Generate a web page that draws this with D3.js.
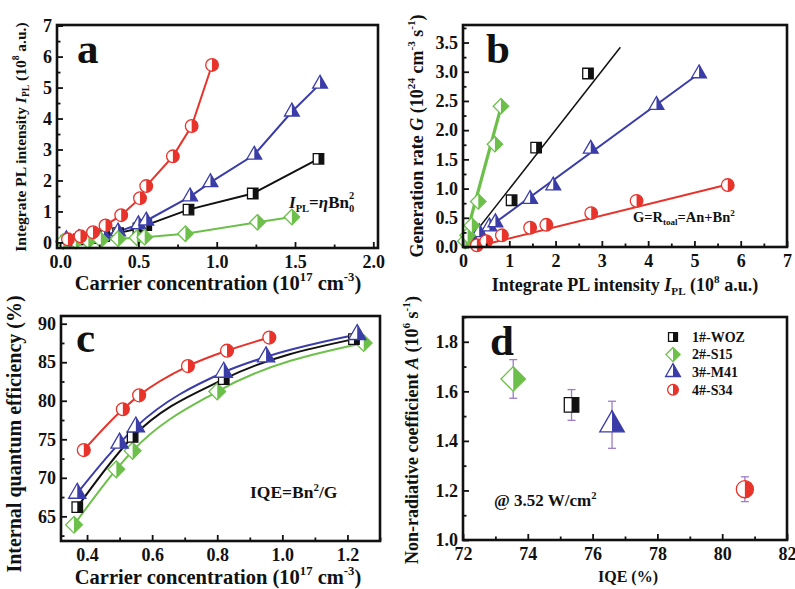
<!DOCTYPE html>
<html><head><meta charset="utf-8">
<script src="https://cdn.jsdelivr.net/npm/d3@7"></script>
<style>
body{margin:0;background:#fff}
text{font-family:"Liberation Serif","Times New Roman",serif;font-weight:bold;fill:#111}
</style>
</head><body>
<svg id="chart" width="795" height="589"></svg>
<script>
// ---------------- DATA ----------------
const seriesNames = ["1#-WOZ", "2#-S15", "3#-M41", "4#-S34"];
const seriesColors = ["#111111", "#6cc04a", "#3a3ca8", "#e8332b"];

// Panel a: carrier concentration (1e17 cm^-3) vs integrated PL (1e8 a.u.)
const aBlackX = [0.04, 0.12, 0.20, 0.28, 0.37, 0.50, 0.55, 0.82, 1.23, 1.65];
const aBlackY = [0.06, 0.10, 0.14, 0.20, 0.30, 0.45, 0.56, 1.06, 1.58, 2.70];
const aGreenX = [0.02, 0.10, 0.18, 0.26, 0.37, 0.49, 0.54, 0.80, 1.26, 1.48];
const aGreenY = [0.03, 0.04, 0.05, 0.08, 0.12, 0.15, 0.17, 0.28, 0.65, 0.82];
const aBlueX  = [0.04, 0.12, 0.20, 0.28, 0.37, 0.50, 0.55, 0.83, 0.96, 1.24, 1.48, 1.66];
const aBlueY  = [0.10, 0.14, 0.18, 0.23, 0.35, 0.58, 0.70, 1.48, 1.94, 2.83, 4.22, 5.12];
const aRedX   = [0.05, 0.13, 0.21, 0.29, 0.39, 0.51, 0.55, 0.72, 0.84, 0.97];
const aRedY   = [0.10, 0.20, 0.33, 0.55, 0.88, 1.43, 1.82, 2.78, 3.76, 5.73];

// Panel b: integrated PL (1e8 a.u.) vs generation rate (1e24)
const bBlackX = [1.05, 1.58, 2.70];
const bBlackY = [0.80, 1.70, 2.97];
const bGreenX = [0.05, 0.10, 0.19, 0.33, 0.69, 0.82];
const bGreenY = [0.10, 0.20, 0.37, 0.78, 1.76, 2.41];
const bBlueX  = [0.20, 0.35, 0.57, 0.70, 1.45, 1.95, 2.76, 4.18, 5.10];
const bBlueY  = [0.12, 0.25, 0.35, 0.42, 0.82, 1.05, 1.68, 2.43, 2.97];
const bRedX   = [0.30, 0.50, 0.84, 1.45, 1.80, 2.77, 3.75, 5.72];
const bRedY   = [0.03, 0.10, 0.20, 0.33, 0.38, 0.58, 0.79, 1.06];
// linear fits in panel b: [x0, y0, x1, y1]
const bFitBlack = [0.02, 0.0, 3.40, 3.42];
const bFitGreen = [0.0, 0.0, 0.84, 2.45];
const bFitBlue  = [0.03, 0.03, 5.10, 2.97];
const bFitRed   = [0.25, 0.0, 5.72, 1.07];

// Panel c: carrier concentration vs IQE (%)
const cBlackX = [0.37, 0.54, 0.82, 1.22];
const cBlackY = [66.2, 75.3, 82.8, 88.0];
const cGreenX = [0.36, 0.49, 0.54, 0.80, 1.25];
const cGreenY = [63.9, 71.1, 73.5, 81.2, 87.5];
const cBlueX  = [0.37, 0.50, 0.55, 0.82, 0.95, 1.23];
const cBlueY  = [68.0, 74.5, 76.6, 83.7, 85.7, 88.6];
const cRedX   = [0.39, 0.51, 0.56, 0.71, 0.83, 0.96];
const cRedY   = [73.6, 78.9, 80.7, 84.5, 86.5, 88.2];

// Panel d: IQE (%) vs non-radiative coefficient A (1e6 s^-1)
const dIQE = [75.35, 73.55, 76.6, 80.7];
const dA   = [1.545, 1.65, 1.465, 1.205];
const dErr = [0.062, 0.078, 0.095, 0.05];

// ---------------- DRAWING ----------------
const svg = d3.select("#chart");
const defs = svg.append("defs");
defs.append("clipPath").attr("id", "rhalf").attr("clipPathUnits", "objectBoundingBox")
  .append("rect").attr("x", 0.5).attr("y", -0.1).attr("width", 0.6).attr("height", 1.2);

const squareDiamond = {
  draw(ctx, size) {
    const r = Math.sqrt(size / 2);
    ctx.moveTo(0, -r); ctx.lineTo(r, 0); ctx.lineTo(0, r); ctx.lineTo(-r, 0); ctx.closePath();
  }
};
const symTypes = [d3.symbolSquare, squareDiamond, d3.symbolTriangle, d3.symbolCircle];

function marker(g, idx, x, y, size) {
  const p = d3.symbol().type(symTypes[idx]).size(size)();
  const col = seriesColors[idx];
  const m = g.append("g").attr("transform", `translate(${x},${y})`);
  m.append("path").attr("d", p).attr("fill", "#fff").attr("stroke", col).attr("stroke-width", 1.3);
  m.append("path").attr("d", p).attr("fill", col).attr("clip-path", "url(#rhalf)");
}

// rich text: segments [text, mode] mode: 'n','i','sup','sub'
function rich(g, x, y, segs, size, opts = {}) {
  const t = g.append("text").attr("x", x).attr("y", y).attr("font-size", size)
    .attr("text-anchor", opts.anchor || "start");
  if (opts.rotate) t.attr("transform", `rotate(-90,${x},${y})`);
  let shift = 0;
  segs.forEach(([s, mode]) => {
    const ts = t.append("tspan").text(s);
    let target = 0;
    if (mode === "sup") { target = -size * 0.42; ts.attr("font-size", size * 0.62); }
    else if (mode === "sub") { target = size * 0.22; ts.attr("font-size", size * 0.62); }
    if (mode === "i") ts.attr("font-style", "italic");
    ts.attr("dy", target - shift);
    shift = target;
  });
  return t;
}

function frame(g, x0, x1, y0, y1) {
  g.append("rect").attr("x", x0).attr("y", y0).attr("width", x1 - x0).attr("height", y1 - y0)
    .attr("fill", "none").attr("stroke", "#111").attr("stroke-width", 2.6);
}

function axes(g, xs, ys, xTicks, xMinor, yTicks, yMinor, xFmt, yFmt) {
  const [x0, x1] = xs.range(); const [y1, y0] = ys.range();
  const fs = 18;
  const ax = g.append("g").attr("transform", `translate(0,${y1})`)
    .call(d3.axisBottom(xs).tickValues(xTicks).tickFormat(xFmt).tickSizeInner(-6).tickSizeOuter(0).tickPadding(7));
  const axm = g.append("g").attr("transform", `translate(0,${y1})`)
    .call(d3.axisBottom(xs).tickValues(xMinor).tickFormat("").tickSizeInner(-3.5).tickSizeOuter(0));
  const ay = g.append("g").attr("transform", `translate(${x0},0)`)
    .call(d3.axisLeft(ys).tickValues(yTicks).tickFormat(yFmt).tickSizeInner(-6).tickSizeOuter(0).tickPadding(5));
  const aym = g.append("g").attr("transform", `translate(${x0},0)`)
    .call(d3.axisLeft(ys).tickValues(yMinor).tickFormat("").tickSizeInner(-3.5).tickSizeOuter(0));
  [ax, axm, ay, aym].forEach(a => {
    a.select(".domain").remove();
    a.selectAll("line").attr("stroke", "#111").attr("stroke-width", 1.8);
    a.selectAll("text").attr("font-size", fs).attr("font-family", null).attr("fill", "#111");
  });
  frame(g, x0, x1, y0, y1);
}

function range(a, b, s) { const r = []; for (let v = a; v <= b + 1e-9; v += s) r.push(+v.toFixed(4)); return r; }

const lineGen = (xs, ys, curve) => d3.line().x(d => xs(d[0])).y(d => ys(d[1])).curve(curve || d3.curveLinear);
const zip = (X, Y) => X.map((v, i) => [v, Y[i]]);

// ===== Panel a =====
{
  const g = svg.append("g");
  const xs = d3.scaleLinear().domain([-0.02, 2.03]).range([57, 378]);
  const ys = d3.scaleLinear().domain([-0.18, 7.02]).range([248, 25]);
  const sets = [[aBlackX, aBlackY, 0], [aBlueX, aBlueY, 2], [aGreenX, aGreenY, 1], [aRedX, aRedY, 3]];
  sets.forEach(([X, Y, k]) => {
    g.append("path").attr("d", lineGen(xs, ys)(zip(X, Y))).attr("fill", "none")
      .attr("stroke", seriesColors[k]).attr("stroke-width", 2);
  });
  const sz = [110, 120, 95, 125];
  sets.forEach(([X, Y, k]) => X.forEach((v, i) => marker(g, k, xs(v), ys(Y[i]), sz[k])));
  axes(g, xs, ys, range(0, 2, 0.5), range(0.25, 1.75, 0.5), range(0, 7, 1), range(0.5, 6.5, 1), d3.format(".1f"), d3.format("d"));
  g.append("text").attr("x", 77).attr("y", 63).attr("font-size", 43).text("a");
  const t = rich(g, 289, 208, [["I", "i"], ["PL", "sub"], ["=", "n"], ["η", "i"], ["Bn", "n"], ["0", "sub"]], 17);
  const last = t.selectAll("tspan").nodes().pop();
  const w0 = last.getComputedTextLength();
  const xEnd = 289 + t.node().getComputedTextLength();
  g.append("text").attr("x", xEnd - w0).attr("y", 199).attr("font-size", 10.5).text("2");
  rich(g, 218, 290, [["Carrier concentration (10", "n"], ["17", "sup"], [" cm", "n"], ["-3", "sup"], [")", "n"]], 20.5, { anchor: "middle" });
  rich(g, 26, 137, [["Integrate PL intensity ", "n"], ["I", "i"], ["PL", "sub"], [" (10", "n"], ["8", "sup"], [" a.u.)", "n"]], 15.5, { anchor: "middle", rotate: true });
}

// ===== Panel b =====
{
  const g = svg.append("g");
  const xs = d3.scaleLinear().domain([0, 7]).range([463, 787]);
  const ys = d3.scaleLinear().domain([0, 3.8]).range([247, 25]);
  const fits = [[bFitGreen, 1, 3.2], [bFitBlack, 0, 1.5], [bFitBlue, 2, 2], [bFitRed, 3, 2]];
  fits.forEach(([f, k, w]) => {
    g.append("line").attr("x1", xs(f[0])).attr("y1", ys(f[1])).attr("x2", xs(f[2])).attr("y2", ys(f[3]))
      .attr("stroke", seriesColors[k]).attr("stroke-width", w);
  });
  const sets = [[bBlackX, bBlackY, 0], [bBlueX, bBlueY, 2], [bGreenX, bGreenY, 1], [bRedX, bRedY, 3]];
  const sz = [110, 120, 95, 125];
  sets.forEach(([X, Y, k]) => X.forEach((v, i) => marker(g, k, xs(v), ys(Y[i]), sz[k])));
  axes(g, xs, ys, range(0, 7, 1), range(0.5, 6.5, 1), range(0, 3.5, 0.5), range(0.25, 3.75, 0.5), d3.format("d"), d3.format(".1f"));
  g.append("text").attr("x", 486).attr("y", 63).attr("font-size", 43).text("b");
  rich(g, 633, 222, [["G=R", "n"], ["toal", "sub"], ["=An+Bn", "n"], ["2", "sup"]], 14.5);
  rich(g, 625, 291, [["Integrate PL intensity ", "n"], ["I", "i"], ["PL", "sub"], [" (10", "n"], ["8", "sup"], [" a.u.)", "n"]], 18, { anchor: "middle" });
  rich(g, 423, 136, [["Generation rate ", "n"], ["G", "i"], [" (10", "n"], ["24", "sup"], [" cm", "n"], ["-3", "sup"], [" s", "n"], ["-1", "sup"], [")", "n"]], 18, { anchor: "middle", rotate: true });
}

// ===== Panel c =====
{
  const g = svg.append("g");
  const xs = d3.scaleLinear().domain([0.32, 1.30]).range([61, 380]);
  const ys = d3.scaleLinear().domain([61.8, 91]).range([541, 316]);
  const sets = [[cGreenX, cGreenY, 1], [cBlackX, cBlackY, 0], [cBlueX, cBlueY, 2], [cRedX, cRedY, 3]];
  sets.forEach(([X, Y, k]) => {
    g.append("path").attr("d", lineGen(xs, ys, d3.curveMonotoneX)(zip(X, Y))).attr("fill", "none")
      .attr("stroke", seriesColors[k]).attr("stroke-width", 2);
  });
  const sz = [110, 140, 130, 130];
  sets.forEach(([X, Y, k]) => X.forEach((v, i) => marker(g, k, xs(v), ys(Y[i]), sz[k])));
  axes(g, xs, ys, range(0.4, 1.2, 0.2), range(0.5, 1.3, 0.2), range(65, 90, 5), range(62.5, 87.5, 5), d3.format(".1f"), d3.format("d"));
  g.append("text").attr("x", 76).attr("y", 352).attr("font-size", 43).text("c");
  rich(g, 250, 498, [["IQE=Bn", "n"], ["2", "sup"], ["/G", "n"]], 17.5);
  rich(g, 218, 584, [["Carrier concentration (10", "n"], ["17", "sup"], [" cm", "n"], ["-3", "sup"], [")", "n"]], 20.5, { anchor: "middle" });
  rich(g, 21, 434, [["Internal quantum efficiency (%)", "n"]], 20, { anchor: "middle", rotate: true });
}

// ===== Panel d =====
{
  const g = svg.append("g");
  const xs = d3.scaleLinear().domain([72, 82]).range([463, 787]);
  const ys = d3.scaleLinear().domain([1.0, 1.9]).range([540, 317]);
  axes(g, xs, ys, range(72, 82, 2), range(73, 81, 2), range(1.0, 1.8, 0.2), range(1.1, 1.9, 0.2), d3.format("d"), d3.format(".1f"));
  const errCol = "#9d7cc6";
  dIQE.forEach((v, i) => {
    const x = xs(v), yl = ys(dA[i] - dErr[i]), yh = ys(dA[i] + dErr[i]);
    g.append("line").attr("x1", x).attr("x2", x).attr("y1", yl).attr("y2", yh).attr("stroke", errCol).attr("stroke-width", 1.3);
    [yl, yh].forEach(yy => g.append("line").attr("x1", x - 4).attr("x2", x + 4).attr("y1", yy).attr("y2", yy).attr("stroke", errCol).attr("stroke-width", 1.3));
  });
  const sz = [210, 300, 260, 230];
  dIQE.forEach((v, i) => marker(g, i, xs(v), ys(dA[i]), sz[i]));
  // legend
  seriesNames.forEach((n, i) => {
    const y = 337 + i * 17.6;
    marker(g, i, 673, y, [80, 100, 95, 90][i]);
    g.append("text").attr("x", 692).attr("y", y + 4.8).attr("font-size", 14).text(n);
  });
  g.append("text").attr("x", 490).attr("y", 355).attr("font-size", 43).text("d");
  rich(g, 494, 506, [["@ 3.52 W/cm", "n"], ["2", "sup"]], 17);
  g.append("text").attr("x", 628).attr("y", 582).attr("font-size", 16).attr("text-anchor", "middle").text("IQE (%)");
  rich(g, 418, 430, [["Non-radiative coefficient ", "n"], ["A", "i"], [" (10", "n"], ["6", "sup"], [" s", "n"], ["-1", "sup"], [")", "n"]], 18, { anchor: "middle", rotate: true });
}
</script>
</body></html>
